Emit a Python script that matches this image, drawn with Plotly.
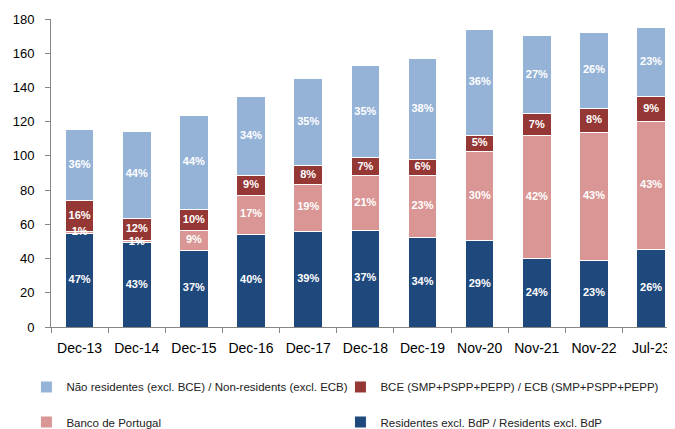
import plotly.graph_objects as go

categories = ["Dec-13", "Dec-14", "Dec-15", "Dec-16", "Dec-17", "Dec-18",
              "Dec-19", "Nov-20", "Nov-21", "Nov-22", "Jul-23"]

residents = [54.6, 49.1, 45.0, 54.3, 56.1, 56.5, 52.4, 50.5, 39.8, 39.0, 45.2]
bdp = [1.3, 1.2, 11.5, 22.8, 27.2, 32.0, 36.1, 52.0, 72.0, 74.7, 74.8]
ecb = [18.1, 13.4, 12.2, 11.4, 11.1, 10.3, 9.2, 9.3, 12.7, 14.0, 14.7]
nonres = [41.3, 50.8, 54.9, 46.2, 50.8, 53.8, 59.1, 61.9, 45.6, 44.3, 40.2]

residents_lbl = ["47%", "43%", "37%", "40%", "39%", "37%", "34%", "29%", "24%", "23%", "26%"]
bdp_lbl = ["1%", "1%", "9%", "17%", "19%", "21%", "23%", "30%", "42%", "43%", "43%"]
ecb_lbl = ["16%", "12%", "10%", "9%", "8%", "7%", "6%", "5%", "7%", "8%", "9%"]
nonres_lbl = ["36%", "44%", "44%", "34%", "35%", "35%", "38%", "36%", "27%", "26%", "23%"]

y_ticks = [0, 20, 40, 60, 80, 100, 120, 140, 160, 180]

# (name, values, labels, colour, legend id, legend x, legend y) - legend in container coords
series = [
    ("Residentes excl. BdP / Residents excl. BdP", residents, residents_lbl, "#1F497D", "legend4", 0.4749, 0.0166),
    ("Banco de Portugal", bdp, bdp_lbl, "#D99694", "legend3", 0.0263, 0.0166),
    ("BCE (SMP+PSPP+PEPP) / ECB (SMP+PSPP+PEPP)", ecb, ecb_lbl, "#953735", "legend2", 0.4749, 0.0998),
    ("Não residentes (excl. BCE) / Non-residents (excl. ECB)", nonres, nonres_lbl, "#95B3D7", "legend", 0.0263, 0.0998),
]

fig = go.Figure()
base = [0.0] * len(categories)
label_x, label_y, label_t = [], [], []
legend_layout = {}
for name, vals, lbls, color, lg, lx, ly in series:
    fig.add_trace(go.Bar(
        x=categories, y=vals, name=name,
        marker=dict(color=color, line=dict(color="white", width=1)),
        legend=lg, hoverinfo="skip",
    ))
    legend_layout[lg] = dict(
        orientation="h", xanchor="left", yanchor="middle",
        xref="container", yref="container", x=lx, y=ly,
        font=dict(family="Liberation Sans", size=11.5, color="#222222"),
        bgcolor="rgba(0,0,0,0)",
    )
    for i, v in enumerate(vals):
        label_x.append(categories[i])
        label_y.append(base[i] + v / 2)
        label_t.append(lbls[i])
        base[i] += v

# labels drawn on top of all bar segments
fig.add_trace(go.Scatter(
    x=label_x, y=label_y, text=label_t, mode="text", showlegend=False,
    textfont=dict(family="Liberation Sans", size=11, color="white", weight="bold"),
    hoverinfo="skip", cliponaxis=False,
))

fig.update_layout(
    barmode="stack",
    bargap=0.5,
    width=700, height=421,
    margin=dict(l=42.5, r=0, t=11, b=102),
    paper_bgcolor="white", plot_bgcolor="white",
    font=dict(family="Liberation Sans", color="#000000"),
    showlegend=True,
    **legend_layout,
)

fig.update_xaxes(
    range=[-0.5, 10.995], automargin=False,
    showline=True, linecolor="#868686", linewidth=1,
    ticks="outside", tickson="boundaries", ticklen=5, tickcolor="#868686",
    ticklabelstandoff=8,
    showgrid=False, tickfont=dict(size=14, color="#000000"),
)
fig.update_yaxes(
    range=[0, 180], tickvals=y_ticks, automargin=False,
    showline=True, linecolor="#868686", linewidth=1,
    ticks="outside", ticklen=5, tickcolor="#868686",
    ticklabelstandoff=8,
    showgrid=False, zeroline=False, tickfont=dict(size=13, color="#000000"),
)

fig.write_html("out.html")
